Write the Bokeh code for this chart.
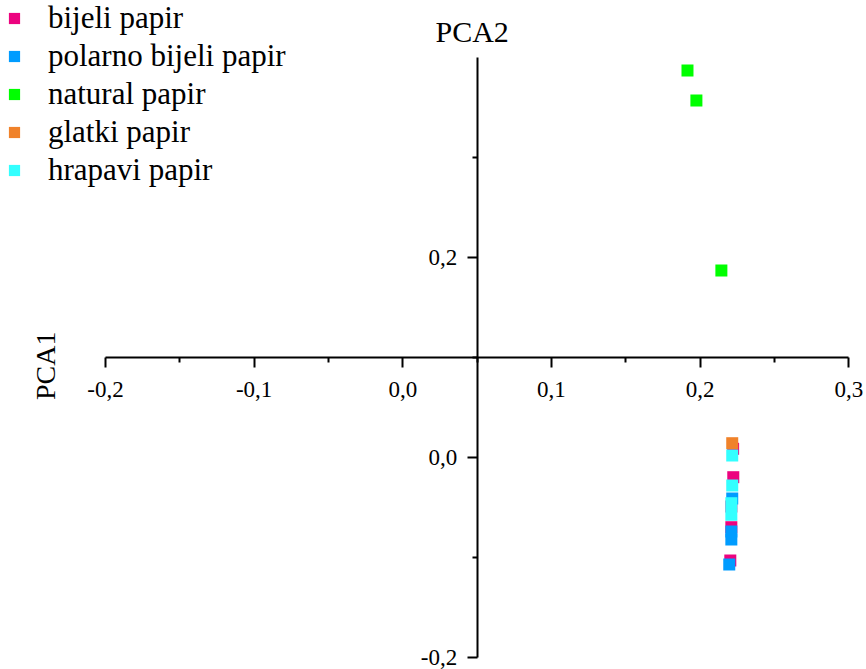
import math

from bokeh.plotting import figure
from bokeh.models import (Range1d, LinearAxis, FixedTicker, CustomJSTickFormatter,
                          Legend, LegendItem, Label)
from bokeh.embed import file_html
from bokeh.resources import INLINE

# --- data -------------------------------------------------------------------
series_names = ["bijeli papir", "polarno bijeli papir", "natural papir",
                "glatki papir", "hrapavi papir"]
series_colors = ["#EC037F", "#009CFF", "#00FF00", "#F0822A", "#33FFFF"]

bijeli_x = [0.2222, 0.2223, 0.2210, 0.2210, 0.2203]
bijeli_y = [0.0090, -0.0194, -0.0487, -0.0694, -0.1027]

polarno_x = [0.2216, 0.2210, 0.2210, 0.2196]
polarno_y = [-0.0407, -0.0737, -0.0817, -0.1067]

natural_x = [0.1915, 0.1975, 0.2143]
natural_y = [0.3873, 0.3573, 0.1873]

glatki_x = [0.2216]
glatki_y = [0.0146]

hrapavi_x = [0.2216, 0.2216, 0.2210, 0.2210]
hrapavi_y = [0.0023, -0.0277, -0.0454, -0.0570]

x_ticks = [-0.2, -0.1, 0.0, 0.1, 0.2, 0.3]
x_minor = [-0.15, -0.05, 0.05, 0.15, 0.25]
y_ticks = [-0.2, 0.0, 0.2]
y_minor = [-0.1, 0.1, 0.3]

x_axis_pos = 0.1    # horizontal axis crosses at PCA1 = 0.1
y_axis_pos = 0.05   # vertical axis crosses at PCA2 = 0.05

# --- figure -----------------------------------------------------------------
p = figure(width=866, height=669, output_backend="svg", toolbar_location=None,
           x_range=Range1d(-0.27062, 0.31192), y_range=Range1d(-0.2117, 0.4573),
           x_axis_location=None, y_axis_location=None, min_border=0)
p.outline_line_color = None
p.background_fill_color = "white"
p.border_fill_color = "white"
p.grid.visible = False

serif = "Liberation Serif"
fmt = CustomJSTickFormatter(code="""
    const v = Math.abs(tick) < 1e-9 ? 0 : tick;
    return v.toFixed(1).replace('.', ',');
""")


def style_axis(ax):
    ax.axis_line_color = "black"
    ax.axis_line_width = 2
    ax.major_tick_line_color = "black"
    ax.major_tick_line_width = 2
    ax.minor_tick_line_color = "black"
    ax.minor_tick_line_width = 2
    ax.major_tick_in = 0
    ax.major_tick_out = 10
    ax.minor_tick_in = 0
    ax.minor_tick_out = 5
    ax.major_label_text_font = serif
    ax.major_label_text_font_size = "23px"
    ax.major_label_text_color = "black"


xaxis = LinearAxis(fixed_location=x_axis_pos, bounds=(-0.2, 0.3),
                   ticker=FixedTicker(ticks=x_ticks, minor_ticks=x_minor),
                   formatter=fmt)
style_axis(xaxis)
xaxis.major_label_standoff = 14
p.add_layout(xaxis, "below")

yaxis = LinearAxis(fixed_location=y_axis_pos, bounds=(-0.2, 0.4),
                   ticker=FixedTicker(ticks=y_ticks, minor_ticks=y_minor),
                   formatter=fmt)
style_axis(yaxis)
yaxis.major_label_standoff = 10
p.add_layout(yaxis, "left")

# --- scatter series ---------------------------------------------------------
xs = [bijeli_x, polarno_x, natural_x, glatki_x, hrapavi_x]
ys = [bijeli_y, polarno_y, natural_y, glatki_y, hrapavi_y]
items = []
for name, color, sx, sy in zip(series_names, series_colors, xs, ys):
    r = p.scatter(sx, sy, marker="square", size=12, fill_color=color,
                  line_color=None)
    items.append(LegendItem(label=name, renderers=[r]))

legend = Legend(items=items, location="top_left", margin=0, padding=5,
                glyph_width=28, glyph_height=34, label_height=34,
                label_standoff=20, spacing=2,
                label_text_font=serif, label_text_font_size="31px",
                label_text_color="black",
                border_line_color=None, background_fill_alpha=0)
p.add_layout(legend, "center")

# --- axis titles ------------------------------------------------------------
p.add_layout(Label(x=y_axis_pos, y=0.4, x_offset=-5, y_offset=26, text="PCA2",
                   text_align="center", text_baseline="alphabetic",
                   text_font=serif, text_font_size="30px", text_color="black"))
p.add_layout(Label(x=-0.2, y=x_axis_pos, x_offset=-60, y_offset=-8, text="PCA1",
                   angle=math.pi / 2, text_align="center",
                   text_baseline="alphabetic",
                   text_font=serif, text_font_size="28px", text_color="black"))

open("out.html", "w").write(file_html(p, INLINE))
